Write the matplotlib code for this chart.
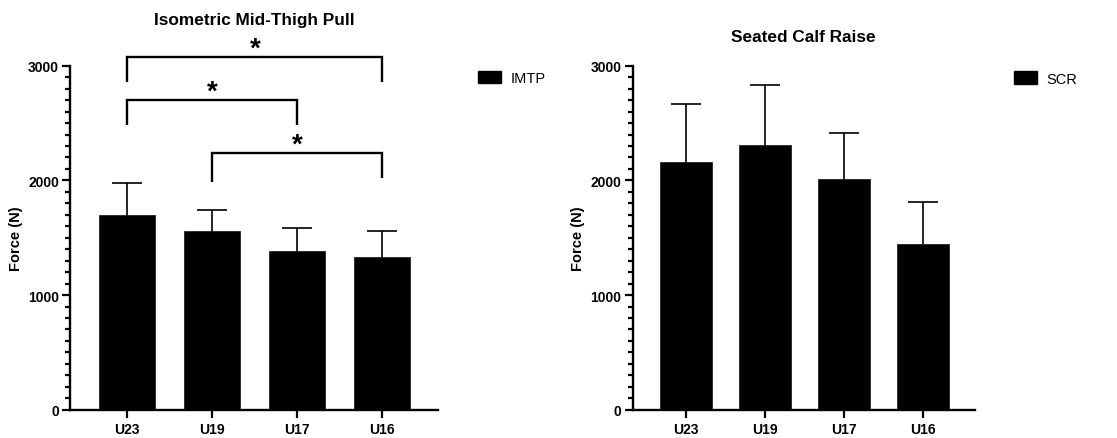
import matplotlib
matplotlib.use("Agg")
import matplotlib.pyplot as plt
import numpy as np
from matplotlib.patches import Patch
from matplotlib.ticker import MultipleLocator

plt.rcParams['font.family'] = ['Liberation Sans', 'DejaVu Sans']

# ---- data ----
groups = ["U23", "U19", "U17", "U16"]
imtp_mean = [1700, 1560, 1380, 1328]
imtp_sd = [276, 181, 203, 227]
scr_mean = [2162, 2308, 2011, 1447]
scr_sd = [500, 523, 398, 366]

titles = ["Isometric Mid-Thigh Pull", "Seated Calf Raise"]
legend_labels = ["IMTP", "SCR"]
ylabel = "Force (N)"

# significance brackets for IMTP: (group i, group j)
sig_pairs = [(0, 3), (0, 2), (1, 3)]
sig_heights = [3080, 2705, 2240]
sig_left_ends = [2862, 2485, 1988]
sig_right_ends = [2862, 2485, 2023]
sig_text = "*"

W, H = 1117, 439
fig = plt.figure(figsize=(W / 100, H / 100), dpi=100)

def px_ax(x0, x1, ytop, ybot):
    return [x0 / W, 1 - ybot / H, (x1 - x0) / W, (ybot - ytop) / H]

ax1 = fig.add_axes(px_ax(70, 438, 66.7, 410.7))
ax2 = fig.add_axes(px_ax(632.7, 975, 66.7, 410.7))

x = np.arange(len(groups))
for ax, mean, sd, title, lab in [(ax1, imtp_mean, imtp_sd, titles[0], legend_labels[0]),
                                  (ax2, scr_mean, scr_sd, titles[1], legend_labels[1])]:
    ax.bar(x, mean, width=0.66, color='black', edgecolor='#222222', linewidth=0.6, zorder=3)
    ax.errorbar(x, mean, yerr=sd, fmt='none', ecolor='black',
                elinewidth=1.2, capsize=10.5, capthick=1.2, zorder=2)
    ax.set_ylim(0, 3000)
    ax.set_xlim(-0.67, 3.66)
    ax.set_xticks(x)
    ax.set_xticklabels(groups, fontsize=10, fontweight='bold')
    ax.yaxis.set_major_locator(MultipleLocator(1000))
    ax.yaxis.set_minor_locator(MultipleLocator(100))
    for lbl in ax.get_yticklabels():
        lbl.set_fontweight('bold')
        lbl.set_fontsize(10)
    ax.tick_params(axis='y', which='major', length=6, width=1.6, pad=2)
    ax.tick_params(axis='y', which='minor', length=3.5, width=1.6)
    ax.tick_params(axis='x', which='major', length=6, width=1.6, pad=3)
    for s in ['top', 'right']:
        ax.spines[s].set_visible(False)
    for s in ['left', 'bottom']:
        ax.spines[s].set_linewidth(1.7)
    ax.set_ylabel(ylabel, fontsize=10.5, fontweight='bold')

ax1.yaxis.set_label_coords(-0.1285, 0.5)
ax2.yaxis.set_label_coords(-0.139, 0.5)

fig.text(254 / W, 1 - 20 / H, titles[0], ha='center', va='center', fontsize=12.4, fontweight='bold')
fig.text(803.8 / W, 1 - 37.7 / H, titles[1], ha='center', va='center', fontsize=12.4, fontweight='bold')

# legends
for lab, (lx, ly) in zip(legend_labels, [(478, 79), (1014, 79.5)]):
    fig.legend(handles=[Patch(facecolor='black', edgecolor='black', label=lab)],
               loc='center left', bbox_to_anchor=(lx / W, 1 - ly / H), frameon=False,
               fontsize=10.5, handlelength=1.55, handleheight=0.92, handletextpad=0.7,
               borderpad=0, borderaxespad=0)

# significance brackets
for (i, j), h, le, re in zip(sig_pairs, sig_heights, sig_left_ends, sig_right_ends):
    ax1.plot([x[i], x[i], x[j], x[j]], [le, h, h, re], color='black', lw=1.7,
             clip_on=False, solid_joinstyle='miter', solid_capstyle='butt')
    ax1.annotate(sig_text, xy=((x[i] + x[j]) / 2, h), xytext=(0.5, 1), textcoords='offset points',
                 ha='center', va='baseline', fontsize=20, fontweight='bold', annotation_clip=False)

fig.savefig("out.png", dpi=100)
